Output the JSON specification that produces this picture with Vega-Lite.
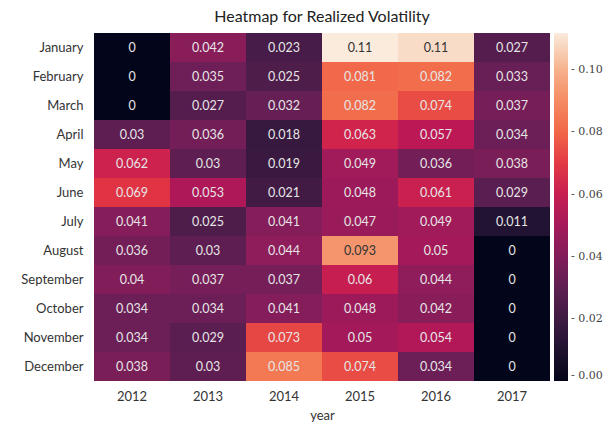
{
  "$schema": "https://vega.github.io/schema/vega-lite/v6.json",
  "autosize": {"type": "none"},
  "padding": {"left": 94, "top": 33, "right": 60, "bottom": 48},
  "width": 456,
  "height": 348,
  "title": {"text": "Heatmap for Realized Volatility", "font": "Lato", "fontSize": 16, "fontWeight": "normal", "color": "#222", "offset": 8},
  "data": {"values": [
    {"month":"January","year":"2012","vol":0},{"month":"February","year":"2012","vol":0},{"month":"March","year":"2012","vol":0},{"month":"April","year":"2012","vol":0.03},{"month":"May","year":"2012","vol":0.062},{"month":"June","year":"2012","vol":0.069},{"month":"July","year":"2012","vol":0.041},{"month":"August","year":"2012","vol":0.036},{"month":"September","year":"2012","vol":0.04},{"month":"October","year":"2012","vol":0.034},{"month":"November","year":"2012","vol":0.034},{"month":"December","year":"2012","vol":0.038},
    {"month":"January","year":"2013","vol":0.042},{"month":"February","year":"2013","vol":0.035},{"month":"March","year":"2013","vol":0.027},{"month":"April","year":"2013","vol":0.036},{"month":"May","year":"2013","vol":0.03},{"month":"June","year":"2013","vol":0.053},{"month":"July","year":"2013","vol":0.025},{"month":"August","year":"2013","vol":0.03},{"month":"September","year":"2013","vol":0.037},{"month":"October","year":"2013","vol":0.034},{"month":"November","year":"2013","vol":0.029},{"month":"December","year":"2013","vol":0.03},
    {"month":"January","year":"2014","vol":0.023},{"month":"February","year":"2014","vol":0.025},{"month":"March","year":"2014","vol":0.032},{"month":"April","year":"2014","vol":0.018},{"month":"May","year":"2014","vol":0.019},{"month":"June","year":"2014","vol":0.021},{"month":"July","year":"2014","vol":0.041},{"month":"August","year":"2014","vol":0.044},{"month":"September","year":"2014","vol":0.037},{"month":"October","year":"2014","vol":0.041},{"month":"November","year":"2014","vol":0.073},{"month":"December","year":"2014","vol":0.085},
    {"month":"January","year":"2015","vol":0.112},{"month":"February","year":"2015","vol":0.081},{"month":"March","year":"2015","vol":0.082},{"month":"April","year":"2015","vol":0.063},{"month":"May","year":"2015","vol":0.049},{"month":"June","year":"2015","vol":0.048},{"month":"July","year":"2015","vol":0.047},{"month":"August","year":"2015","vol":0.093},{"month":"September","year":"2015","vol":0.06},{"month":"October","year":"2015","vol":0.048},{"month":"November","year":"2015","vol":0.05},{"month":"December","year":"2015","vol":0.074},
    {"month":"January","year":"2016","vol":0.109},{"month":"February","year":"2016","vol":0.082},{"month":"March","year":"2016","vol":0.074},{"month":"April","year":"2016","vol":0.057},{"month":"May","year":"2016","vol":0.036},{"month":"June","year":"2016","vol":0.061},{"month":"July","year":"2016","vol":0.049},{"month":"August","year":"2016","vol":0.05},{"month":"September","year":"2016","vol":0.044},{"month":"October","year":"2016","vol":0.042},{"month":"November","year":"2016","vol":0.054},{"month":"December","year":"2016","vol":0.034},
    {"month":"January","year":"2017","vol":0.027},{"month":"February","year":"2017","vol":0.033},{"month":"March","year":"2017","vol":0.037},{"month":"April","year":"2017","vol":0.034},{"month":"May","year":"2017","vol":0.038},{"month":"June","year":"2017","vol":0.029},{"month":"July","year":"2017","vol":0.011},{"month":"August","year":"2017","vol":0},{"month":"September","year":"2017","vol":0},{"month":"October","year":"2017","vol":0},{"month":"November","year":"2017","vol":0},{"month":"December","year":"2017","vol":0}
  ]},
  "encoding": {
    "x": {"field": "year", "type": "ordinal", "scale": {"paddingInner": 0, "paddingOuter": 0},
      "axis": {"title": "year", "labelAngle": 0, "ticks": false, "domain": false, "labelPadding": 9, "titlePadding": 6, "labelFont": "Lato", "labelFontSize": 13, "labelColor": "#333", "titleFont": "Lato", "titleFontSize": 13, "titleFontWeight": "normal", "titleColor": "#333"}},
    "y": {"field": "month", "type": "ordinal", "sort": ["January","February","March","April","May","June","July","August","September","October","November","December"], "scale": {"paddingInner": 0, "paddingOuter": 0},
      "axis": {"title": null, "ticks": false, "domain": false, "labelPadding": 11, "labelFont": "Lato", "labelFontSize": 13, "labelColor": "#333"}}
  },
  "layer": [
    {"mark": {"type": "rect"},
     "encoding": {
       "color": {"field": "vol", "type": "quantitative", "scale": {"domain": [0, 0.112], "range": ["#03051a", "#221331", "#451c47", "#6a1f56", "#921c5b", "#b91657", "#dd2c45", "#f06043", "#f58860", "#f6b48e", "#faebdd"], "interpolate": "rgb"},
         "legend": {"type": "gradient", "title": null, "offset": 4, "gradientLength": 348, "gradientThickness": 14, "values": [0, 0.02, 0.04, 0.06, 0.08, 0.1], "labelExpr": "'- ' + format(datum.value, '.2f')", "labelFont": "DejaVu Serif", "labelFontSize": 11, "labelColor": "#444", "labelOffset": 3, "gradientStrokeWidth": 0}}
     }},
    {"mark": {"type": "text", "font": "Lato", "fontSize": 12.5},
     "encoding": {"text": {"field": "vol", "type": "quantitative", "format": ".2~g"},
       "color": {"condition": {"test": "datum.vol > 0.088", "value": "#333"}, "value": "#e6e6e6"}}}
  ],
  "config": {"view": {"stroke": null}}
}
